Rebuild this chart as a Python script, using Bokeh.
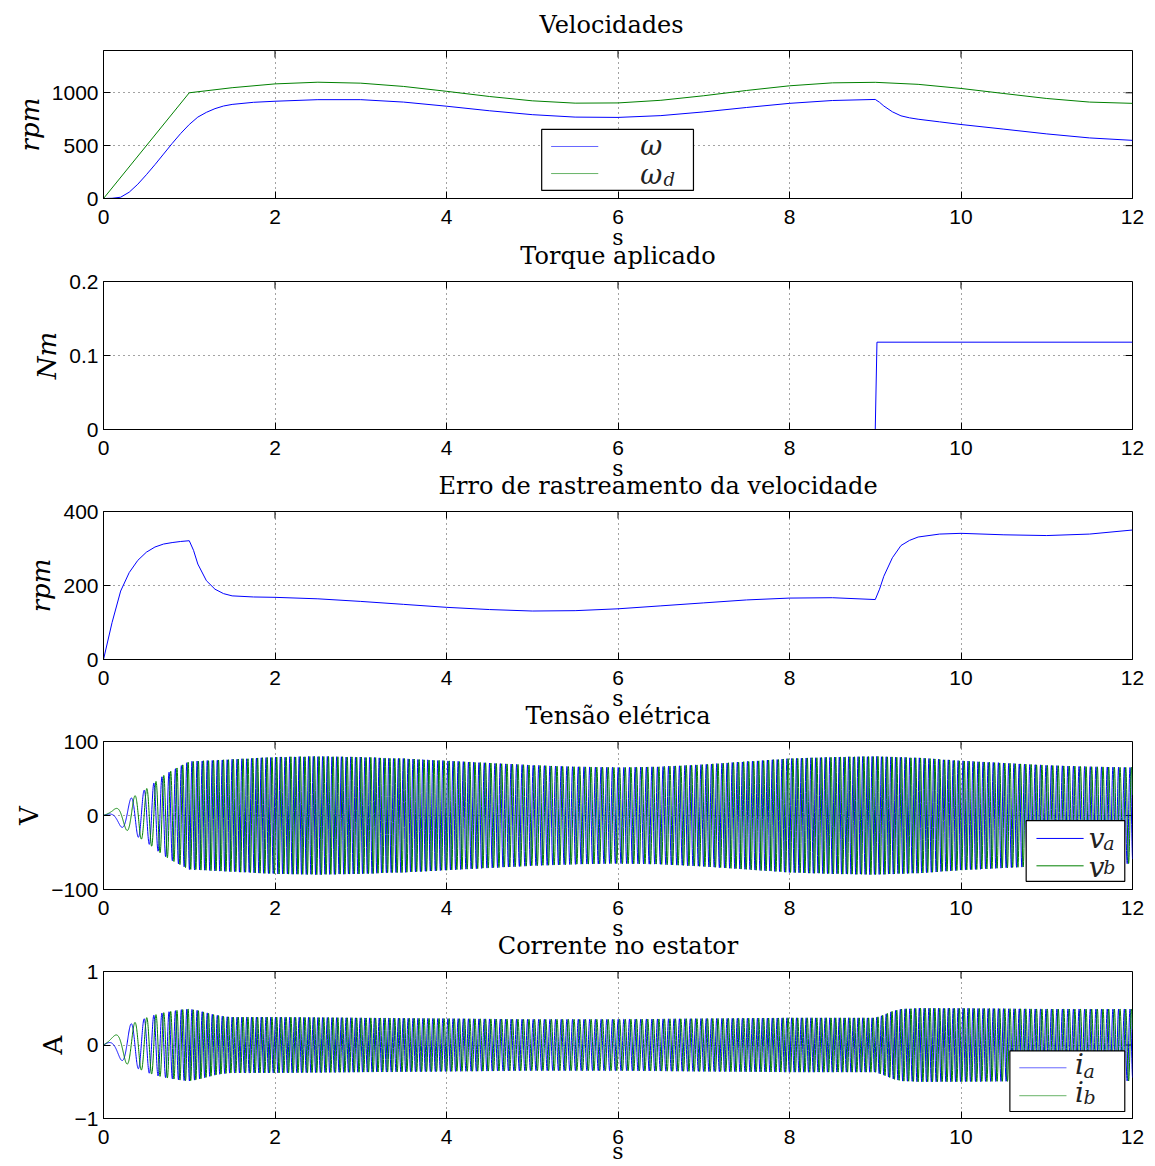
import numpy as np
from bokeh.plotting import figure
from bokeh.layouts import column
from bokeh.models import Range1d, FixedTicker
from bokeh.core.properties import value
from bokeh.embed import file_html
from bokeh.resources import INLINE

# ---------------- data ----------------
x_ticks = [0, 2, 4, 6, 8, 10, 12]
x_tick_labels = ["0", "2", "4", "6", "8", "10", "12"]

# desired speed omega_d (rpm)
t_wd = [0, 1, 1.5, 2, 2.5, 3, 3.5, 4, 4.5, 5, 5.5, 6, 6.5, 7, 7.5, 8, 8.5, 9,
        9.5, 10, 10.5, 11, 11.5, 12]
wd = [0, 1000, 1048, 1084, 1100, 1091, 1060, 1014, 965, 924, 902, 904, 929,
      972, 1022, 1066, 1094, 1099, 1080, 1041, 993, 946, 912, 900]

# measured speed omega (rpm)
t_w = [0, 0.1, 0.2, 0.3, 0.4, 0.5, 0.6, 0.7, 0.8, 0.9, 1.0, 1.1, 1.2, 1.3, 1.4,
       1.5, 1.75, 2, 2.5, 3, 3.5, 4, 4.5, 5, 5.5, 6, 6.5, 7, 7.5, 8, 8.5, 9,
       9.05, 9.1, 9.2, 9.3, 9.4, 9.5, 9.75, 10, 10.5, 11, 11.5, 12]
w = [0, 2, 12, 60, 135, 225, 320, 420, 520, 615, 700, 770, 815, 850, 875, 890,
     910, 920, 935, 935, 912, 873, 830, 793, 770, 767, 784, 819, 861, 900, 927,
     937, 910, 875, 820, 782, 763, 750, 725, 700, 656, 611, 573, 550]

# applied torque (Nm)
t_torque = [0, 9.0, 9.02, 12]
torque = [0, 0, 0.118, 0.118]

# speed tracking error (rpm)
t_err = [0, 0.1, 0.2, 0.3, 0.4, 0.5, 0.6, 0.7, 0.8, 0.9, 1.0, 1.05, 1.1, 1.2,
         1.3, 1.4, 1.5, 1.75, 2, 2.5, 3, 3.5, 4, 4.5, 5, 5.5, 6, 6.5, 7, 7.5, 8,
         8.5, 9, 9.05, 9.1, 9.2, 9.3, 9.4, 9.5, 9.75, 10, 10.5, 11, 11.5, 12]
err = [0, 100, 185, 235, 268, 290, 304, 312, 316, 319, 321, 295, 258, 213, 190,
       178, 172, 169, 168, 164, 157, 149, 141, 135, 131, 132, 137, 145, 153,
       161, 166, 167, 162, 190, 225, 275, 308, 322, 331, 339, 341, 337, 335,
       339, 350]

# voltage amplitude envelope (V)
t_venv = [0, 0.1, 0.2, 0.3, 0.4, 0.5, 0.6, 0.7, 0.8, 0.9, 1.0, 1.5, 2, 2.5, 3,
          3.5, 4, 4.5, 5, 5.5, 6, 6.5, 7, 7.5, 8, 8.5, 9, 9.5, 10, 10.5, 11,
          11.5, 12]
venv = [0, 6, 15, 22, 29, 36, 45, 54, 61, 67, 73, 76, 79, 80, 79, 77, 74, 71,
        68, 66, 65, 66, 69, 73, 77, 79, 80, 78, 74, 71, 68, 66, 65]

# current amplitude envelope (A)
t_ienv = [0, 0.1, 0.2, 0.3, 0.4, 0.5, 0.6, 0.7, 0.8, 0.9, 1.0, 1.1, 1.2, 1.3,
          1.4, 1.5, 2, 3, 4, 5, 6, 7, 8, 9, 9.1, 9.2, 9.3, 9.5, 10, 11, 12]
ienv = [0, 0.10, 0.20, 0.28, 0.32, 0.37, 0.41, 0.44, 0.46, 0.48, 0.49, 0.47,
        0.44, 0.41, 0.39, 0.38, 0.38, 0.37, 0.36, 0.35, 0.35, 0.36, 0.37,
        0.37, 0.41, 0.46, 0.49, 0.50, 0.50, 0.49, 0.49]

# phase offsets of the two phases (cycles), read from the first oscillations
phase_a = 0.13
phase_b = -0.12

titles = ["Velocidades", "Torque aplicado", "Erro de rastreamento da velocidade",
          "Tensão elétrica", "Corrente no estator"]

# ---------------- oscillating phase signals ----------------
# electrical frequency follows the commanded speed (rpm / 60 Hz)
dt = 0.002
tf = np.arange(0, 12 + dt / 2, dt)
freq = np.interp(tf, t_wd, wd) / 60.0
cycles = np.concatenate([[0.0], np.cumsum((freq[1:] + freq[:-1]) / 2 * dt)])
amp_v = np.interp(tf, t_venv, venv)
amp_i = np.interp(tf, t_ienv, ienv)
va = amp_v * np.cos(2 * np.pi * (cycles + phase_a))
vb = amp_v * np.cos(2 * np.pi * (cycles + phase_b))
ia = amp_i * np.cos(2 * np.pi * (cycles + phase_a))
ib = amp_i * np.cos(2 * np.pi * (cycles + phase_b))

BLUE = "#0000ff"
GREEN = "#008000"
FH = 148      # frame height in px
FW = 1029     # frame width in px
TICK = 7      # inward tick length in px
TOP = 56      # top border (holds the title)
SERIF = "DejaVu Serif"
SANS = "Liberation Sans"


def make_fig(bottom, margin_top, yr, yticks, ylabels, ylab, ylab_style,
             title, title_align, title_offset, s_standoff):
    p = figure(width=103 + FW + 14, height=TOP + FH + bottom,
               x_range=Range1d(0, 12), y_range=Range1d(yr[0], yr[1]),
               output_backend="svg", toolbar_location=None,
               min_border_left=103, min_border_right=14, min_border_top=TOP,
               min_border_bottom=bottom)
    p.margin = (margin_top, 0, 0, 0)
    p.background_fill_color = "white"
    p.border_fill_color = None
    p.outline_line_color = "black"
    p.outline_line_width = 1
    p.outline_line_alpha = 1

    p.title.text = title
    p.title.align = title_align
    p.title.offset = title_offset
    p.title.text_font = SERIF
    p.title.text_font_size = "24px"
    p.title.text_font_style = "normal"
    p.title.text_color = "black"
    p.title.standoff = 24

    xt = FixedTicker(ticks=x_ticks)
    yt = FixedTicker(ticks=yticks)
    p.xaxis.ticker = xt
    p.yaxis.ticker = yt
    p.xaxis.major_label_overrides = dict(zip(x_ticks, x_tick_labels))
    p.yaxis.major_label_overrides = dict(zip(yticks, ylabels))
    for ax in (p.xaxis, p.yaxis):
        ax.major_tick_in = TICK
        ax.major_tick_out = 0
        ax.minor_tick_line_color = None
        ax.major_label_text_font = SANS
        ax.major_label_text_font_size = "21px"
        ax.major_label_text_color = "black"
        ax.axis_line_color = "black"
        ax.major_tick_line_color = "black"
    p.xaxis.major_label_standoff = 11
    p.yaxis.major_label_standoff = 5
    p.xaxis.axis_label = "s"
    p.xaxis.axis_label_text_font = SERIF
    p.xaxis.axis_label_text_font_style = "normal"
    p.xaxis.axis_label_text_font_size = "22px"
    p.xaxis.axis_label_text_color = "black"
    p.xaxis.axis_label_standoff = s_standoff
    p.yaxis.axis_label = ylab
    p.yaxis.axis_label_text_font = SERIF
    p.yaxis.axis_label_text_font_style = ylab_style
    p.yaxis.axis_label_text_font_size = "26px"
    p.yaxis.axis_label_text_color = "black"
    p.yaxis.axis_label_standoff = 4

    for g in (p.xgrid, p.ygrid):
        g.grid_line_color = "#333333"
        g.grid_line_dash = "1 4"
        g.grid_line_alpha = 0.9
        g.grid_line_width = 1
    p.xgrid.ticker = xt
    p.ygrid.ticker = yt

    # inward ticks on the top and right sides of the box
    yspan = yr[1] - yr[0]
    ty = TICK / FH * yspan
    tx = TICK / FW * 12
    p.segment(x0=x_ticks, x1=x_ticks, y0=[yr[1]] * len(x_ticks),
              y1=[yr[1] - ty] * len(x_ticks), line_color="black", line_width=1)
    p.segment(x0=[12] * len(yticks), x1=[12 - tx] * len(yticks), y0=yticks,
              y1=yticks, line_color="black", line_width=1)
    return p


def legend_box(p, left, right, top, bottom):
    p.quad(left=[left], right=[right], top=[top], bottom=[bottom],
           fill_color="white", line_color="black", line_width=1.2)


def legend_text(p, x, y, txt, size):
    p.text(x=[x], y=[y], text=[txt], text_font=value(SERIF),
           text_font_style="italic", text_font_size=size,
           text_baseline="alphabetic", text_align="left", text_color="#222222")


# ---------------- panel 1: speeds ----------------
p1 = make_fig(55, -6, (0, 1400), [0, 500, 1000], ["0", "500", "1000"],
              "rpm", "italic", titles[0], "left", 436, -2)
p1.line(t_w, w, color=BLUE, line_width=1)
p1.line(t_wd, wd, color=GREEN, line_width=1)
legend_box(p1, 5.11, 6.88, 653, 76)
p1.line([5.22, 5.77], [492, 492], color=BLUE, line_width=1, alpha=0.6)
p1.line([5.22, 5.77], [236, 236], color=GREEN, line_width=1, alpha=0.6)
legend_text(p1, 6.26, 506, "ω", "27px")
legend_text(p1, 6.26, 231, "ω", "27px")
legend_text(p1, 6.53, 178, "d", "18px")

# ---------------- panel 2: torque ----------------
p2 = make_fig(55, -28, (0, 0.2), [0, 0.1, 0.2], ["0", "0.1", "0.2"],
              "Nm", "italic", titles[1], "center", 0, -2)
p2.line(t_torque, torque, color=BLUE, line_width=1)

# ---------------- panel 3: tracking error ----------------
p3 = make_fig(55, -29, (0, 400), [0, 200, 400], ["0", "200", "400"],
              "rpm", "italic", titles[2], "left", 335, -2)
p3.line(t_err, err, color=BLUE, line_width=1)

# ---------------- panel 4: voltage ----------------
p4 = make_fig(55, -29, (-100, 100), [-100, 0, 100], ["−100", "0", "100"],
              "V", "normal", titles[3], "center", 0, -2)
p4.line(tf, va, color=BLUE, line_width=1)
p4.line(tf, vb, color=GREEN, line_width=1)
legend_box(p4, 10.76, 11.91, -7, -89)
p4.line([10.88, 11.43], [-31, -31], color=BLUE, line_width=1)
p4.line([10.88, 11.43], [-68, -68], color=GREEN, line_width=1)
legend_text(p4, 11.49, -31, "v", "28px")
legend_text(p4, 11.66, -37, "a", "19px")
legend_text(p4, 11.49, -70, "v", "28px")
legend_text(p4, 11.66, -70, "b", "19px")

# ---------------- panel 5: current ----------------
p5 = make_fig(47, -29, (-1, 1), [-1, 0, 1], ["−1", "0", "1"],
              "A", "normal", titles[4], "center", 0, -8)
p5.line(tf, ia, color=BLUE, line_width=1)
p5.line(tf, ib, color=GREEN, line_width=1)
legend_box(p5, 10.57, 11.91, -0.08, -0.905)
p5.line([10.68, 11.23], [-0.31, -0.31], color=BLUE, line_width=1, alpha=0.6)
p5.line([10.68, 11.23], [-0.69, -0.69], color=GREEN, line_width=1, alpha=0.6)
legend_text(p5, 11.33, -0.27, "i", "28px")
legend_text(p5, 11.43, -0.36, "a", "19px")
legend_text(p5, 11.33, -0.64, "i", "28px")
legend_text(p5, 11.43, -0.71, "b", "19px")

layout = column(p1, p2, p3, p4, p5, spacing=0)
open("out.html", "w").write(file_html(layout, INLINE))
